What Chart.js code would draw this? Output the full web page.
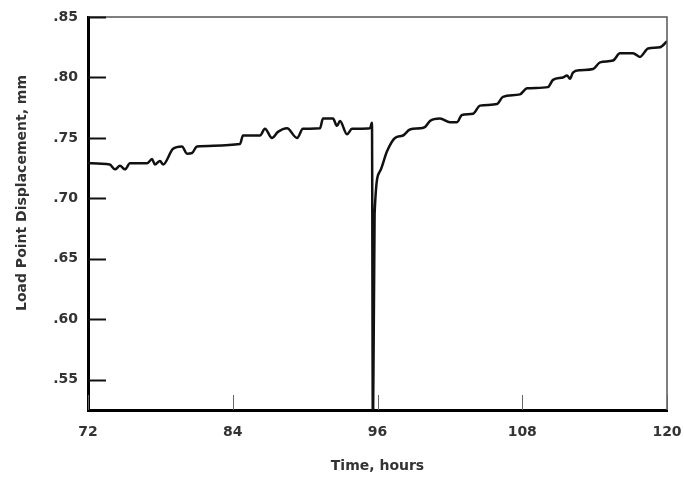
<!DOCTYPE html>
<html>
<head>
<meta charset="utf-8">
<script src="https://cdn.jsdelivr.net/npm/chart.js@4/dist/chart.umd.min.js"></script>
<style>
  html, body { margin: 0; padding: 0; background: #ffffff; }
  #wrap { width: 684px; height: 483px; }
</style>
</head>
<body>
<div id="wrap"><canvas id="c" width="684" height="483"></canvas></div>
<script>
// Time, hours
const timeHours = [72.0, 73.8, 74.24, 74.65, 75.07, 75.48, 76.89, 77.31, 77.55, 77.97, 78.22, 79.05, 79.79, 80.21, 80.62, 81.04, 84.6, 84.85, 86.26, 86.67, 87.25, 87.75, 88.5, 89.33, 89.82, 91.23, 91.48, 92.31, 92.64, 92.89, 93.47, 93.89, 95.38, 95.54, 95.62, 95.76, 96.21, 96.79, 97.45, 98.11, 98.69, 99.52, 99.94, 100.35, 101.18, 102.01, 102.59, 103.0, 103.92, 104.5, 105.91, 106.4, 107.81, 108.39, 110.13, 110.55, 111.38, 111.71, 111.96, 112.2, 112.79, 113.87, 114.45, 115.53, 116.1, 117.18, 117.76, 118.43, 119.42, 120.0];
// Load point displacement, mm
const displacement = [0.729, 0.728, 0.724, 0.727, 0.724, 0.729, 0.729, 0.7325, 0.728, 0.731, 0.728, 0.741, 0.743, 0.737, 0.7375, 0.743, 0.745, 0.752, 0.752, 0.7575, 0.75, 0.755, 0.758, 0.75, 0.7575, 0.758, 0.766, 0.766, 0.76, 0.764, 0.753, 0.7575, 0.758, 0.7625, 0.50, 0.687, 0.7225, 0.739, 0.75, 0.752, 0.757, 0.758, 0.759, 0.764, 0.766, 0.763, 0.763, 0.769, 0.77, 0.7767, 0.778, 0.784, 0.786, 0.791, 0.792, 0.798, 0.80, 0.8017, 0.799, 0.804, 0.806, 0.807, 0.8125, 0.814, 0.82, 0.82, 0.817, 0.824, 0.825, 0.83];
const xTicks = [72, 84, 96, 108, 120];
const yTicks = [0.55, 0.60, 0.65, 0.70, 0.75, 0.80, 0.85];
const xTitle = 'Time, hours';
const yTitle = 'Load Point Displacement, mm';

const FONT = 'DejaVu Sans';

const framePlugin = {
  id: 'frame',
  afterDatasetsDraw(chart) {
    const ctx = chart.ctx, a = chart.chartArea;
    const xs = chart.scales.x, ys = chart.scales.y;
    ctx.save();
    ctx.strokeStyle = '#555';
    ctx.lineWidth = 1.5;
    ctx.beginPath();
    ctx.moveTo(a.left, a.top);
    ctx.lineTo(a.right, a.top);
    ctx.lineTo(a.right, a.bottom);
    ctx.stroke();
    ctx.strokeStyle = '#111';
    ctx.lineWidth = 2;
    ys.ticks.forEach(t => {
      const py = Math.round(ys.getPixelForValue(t.value)) + 0.5;
      ctx.beginPath();
      ctx.moveTo(a.left, py);
      ctx.lineTo(a.left + 18, py);
      ctx.stroke();
    });
    ctx.strokeStyle = '#666';
    ctx.lineWidth = 1;
    xs.ticks.forEach(t => {
      const px = Math.round(xs.getPixelForValue(t.value)) + 0.5;
      ctx.beginPath();
      ctx.moveTo(px, a.bottom);
      ctx.lineTo(px, a.bottom - 15);
      ctx.stroke();
    });
    ctx.restore();
  },
  afterDraw(chart) {
    const ctx = chart.ctx;
    ctx.save();
    ctx.translate(22, 193);
    ctx.rotate(-Math.PI / 2);
    ctx.font = 'bold 14px "' + FONT + '"';
    ctx.fillStyle = '#333';
    ctx.textAlign = 'center';
    ctx.textBaseline = 'middle';
    ctx.fillText(yTitle, 0, 0);
    ctx.restore();
  }
};

new Chart(document.getElementById('c'), {
  type: 'line',
  data: {
    datasets: [{
      data: timeHours.map((t, i) => ({ x: t, y: displacement[i] })),
      borderColor: '#111',
      borderWidth: 2.5,
      pointRadius: 0,
      cubicInterpolationMode: 'monotone',
      fill: false
    }]
  },
  options: {
    responsive: false,
    animation: false,
    layout: { padding: { left: 0, top: 17, right: 17, bottom: 0 } },
    plugins: { legend: { display: false }, tooltip: { enabled: false } },
    scales: {
      x: {
        type: 'linear',
        min: 72, max: 120,
        afterBuildTicks: s => { s.ticks = xTicks.map(v => ({ value: v })); },
        afterFit: s => { s.height = 73; s.paddingLeft = 0; s.paddingRight = 0; },
        grid: { display: true, drawOnChartArea: false, drawTicks: false, tickLength: 0 },
        border: { display: true, color: '#000', width: 3 },
        ticks: {
          padding: 14,
          color: '#333',
          font: { family: FONT, size: 14, weight: 'bold' },
          maxRotation: 0,
          callback: v => String(v)
        },
        title: {
          display: true,
          text: xTitle,
          color: '#333',
          font: { family: FONT, size: 14, weight: 'bold' },
          padding: { top: 6, bottom: 8 }
        }
      },
      y: {
        type: 'linear',
        min: 0.525, max: 0.85,
        afterBuildTicks: s => { s.ticks = yTicks.map(v => ({ value: v })); },
        afterFit: s => { s.width = 88; s.paddingTop = 0; s.paddingBottom = 0; },
        grid: { display: true, drawOnChartArea: false, drawTicks: false, tickLength: 0 },
        border: { display: true, color: '#000', width: 3 },
        ticks: {
          padding: 10,
          color: '#333',
          font: { family: FONT, size: 14, weight: 'bold' },
          callback: v => v.toFixed(2).replace(/^0/, '')
        },
        title: { display: false }
      }
    }
  },
  plugins: [framePlugin]
});
</script>
</body>
</html>
